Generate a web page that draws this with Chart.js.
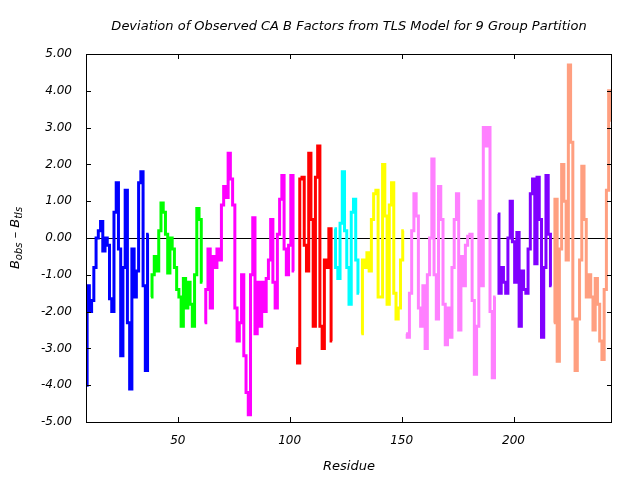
<!DOCTYPE html>
<html>
<head>
<meta charset="utf-8">
<script src="https://cdn.jsdelivr.net/npm/chart.js@4"></script>
<style>
  html, body { margin: 0; padding: 0; background: #fff; }
  #wrap { width: 640px; height: 480px; }
</style>
</head>
<body>
<div id="wrap"><canvas id="chart"></canvas></div>
<script>
// residue range and ticks
const xMin = 9;
const xMax = 244;
const xTicks = [50, 100, 150, 200];
const yTicks = [-5, -4, -3, -2, -1, 0, 1, 2, 3, 4, 5];

// first residue of each TLS group
const groupStarts = [9, 38, 62, 103, 120, 132, 152, 193, 218];
const groupColors = ['#0000ff', '#00ff00', '#ff00ff', '#ff0000', '#00ffff', '#ffff00', '#ff80ff', '#8000ff', '#ff9f80'];

// B_obs - B_tls per residue, one array per group
const group1 = [-4.0, -1.3, -2.0, -1.7, -0.8, 0.0, 0.2, 0.45, -0.35, 0.0, -0.2, -1.65, -2.0, 0.7, 1.5, -0.3, -3.2, -0.8, 1.3, -2.3, -4.1, -0.3, -1.6, -0.9, 1.5, 1.8, -1.3, -3.6, 0.1];
const group2 = [-1.6, -1.0, -0.5, -0.9, 0.2, 0.95, 0.7, 0.1, -0.95, 0.0, -0.3, -0.8, -1.4, -1.6, -2.4, -1.1, -1.9, -1.2, -1.8, -2.4, -1.0, 0.8, 0.5, -1.2];
const group3 = [-2.3, -1.4, -0.3, -1.9, -0.5, -0.8, -0.3, -0.6, 0.9, 1.4, 1.1, 2.3, 1.6, 0.9, -1.9, -2.8, -2.3, -1.0, -3.2, -4.2, -4.8, -1.0, 0.55, -2.6, -1.2, -2.4, -1.2, -2.0, -1.1, -0.6, 0.5, -1.2, -1.9, 0.1, 1.05, 1.7, -0.3, -1.0, -0.2, 1.7, -0.9];
const group4 = [-3.0, -3.4, 1.6, 1.65, -0.2, -0.9, 2.3, 0.5, -2.4, 1.65, 2.5, -2.4, -3.0, -0.6, -0.8, 0.25, -2.8];
const group5 = [0.25, -0.8, -1.1, 0.4, 1.8, 0.2, -0.8, -1.8, 0.7, 1.05, -0.6, -1.5];
const group6 = [-2.6, -0.6, -0.8, -0.4, -0.9, 0.5, 1.2, 1.3, -1.6, -1.6, 2.0, 0.6, -1.8, 0.9, 1.5, -1.5, -2.2, -1.9, -0.6, 0.2];
const group7 = [-2.6, -2.7, -1.5, 0.2, 1.2, 0.6, -1.9, -2.4, -1.3, -3.0, -1.0, 0.0, 2.15, -1.0, -2.2, 1.4, 0.5, -1.8, -2.9, -1.9, -2.7, -0.8, 0.5, 1.2, -2.5, -0.5, -1.3, -0.2, 0.05, 0.1, -1.7, -3.7, -2.4, 1.0, -1.3, 3.0, 2.5, 3.0, -2.0, -3.8, -1.6];
const group8 = [0.65, -1.5, -0.8, -1.2, -1.5, 0.0, 1.0, -0.1, -1.2, 0.15, -2.4, -0.9, -1.4, -1.5, -0.3, 1.2, 1.6, -0.7, 1.65, 0.5, -2.7, -0.8, 1.7, 0.1, -1.3];
const group9 = [-2.3, 1.05, -3.35, -0.3, 2.0, 1.0, -0.6, 4.7, 2.6, -2.2, -3.6, -2.2, -0.6, 1.95, 0.5, -1.6, -1.0, -1.6, -2.5, -1.1, -1.8, -2.8, -3.3, -1.4, 1.3, 4.0, 3.2];

const groups = [group1, group2, group3, group4, group5, group6, group7, group8, group9];

const datasets = groups.map((vals, g) => ({
    label: 'Group ' + (g + 1),
    data: vals.map((v, i) => ({ x: groupStarts[g] + i, y: v })),
    borderColor: groupColors[g],
    backgroundColor: groupColors[g],
    borderWidth: 3,
    pointRadius: 0,
    stepped: 'middle',
    fill: false
}));

const FONT = 'DejaVu Sans';
const TITLE = 'Deviation of Observed CA B Factors from TLS Model for 9 Group Partition';

// frame, inward ticks (mirrored) and titles, gnuplot style
const framePlugin = {
    id: 'frame',
    afterDatasetsDraw(chart) {
        const { ctx, chartArea: a, scales } = chart;
        const tl = 5;
        ctx.save();
        ctx.strokeStyle = '#000';
        ctx.lineWidth = 1;
        ctx.strokeRect(a.left + 0.5, a.top + 0.5, a.right - a.left - 1, a.bottom - a.top);
        ctx.beginPath();
        xTicks.forEach((t) => {
            const px = Math.round(scales.x.getPixelForValue(t)) + 0.5;
            ctx.moveTo(px, a.bottom); ctx.lineTo(px, a.bottom - tl);
            ctx.moveTo(px, a.top); ctx.lineTo(px, a.top + tl);
        });
        yTicks.forEach((t) => {
            const py = Math.round(scales.y.getPixelForValue(t)) + 0.5;
            ctx.moveTo(a.left, py); ctx.lineTo(a.left + tl, py);
            ctx.moveTo(a.right, py); ctx.lineTo(a.right - tl, py);
        });
        ctx.stroke();
        ctx.restore();
    },
    afterDraw(chart) {
        const { ctx, chartArea: a } = chart;
        const cx = (a.left + a.right) / 2;
        ctx.save();
        ctx.fillStyle = '#000';
        ctx.textAlign = 'center';
        ctx.textBaseline = 'middle';
        ctx.font = 'italic 13px "' + FONT + '"';
        ctx.fillText(TITLE, cx, 27);
        ctx.fillText('Residue', cx, 467);
        // y title with subscripts
        const parts = [
            { t: 'B', sub: false },
            { t: 'obs', sub: true },
            { t: ' \u2013 B', sub: false },
            { t: 'tls', sub: true }
        ];
        const big = 'italic 13px "' + FONT + '"';
        const small = 'italic 10px "' + FONT + '"';
        let total = 0;
        parts.forEach((p) => { ctx.font = p.sub ? small : big; total += ctx.measureText(p.t).width; });
        ctx.translate(14, (a.top + a.bottom) / 2);
        ctx.rotate(-Math.PI / 2);
        ctx.textAlign = 'left';
        ctx.textBaseline = 'alphabetic';
        let x = -total / 2;
        parts.forEach((p) => {
            ctx.font = p.sub ? small : big;
            ctx.fillText(p.t, x, p.sub ? 8 : 5);
            x += ctx.measureText(p.t).width;
        });
        ctx.restore();
    }
};

new Chart(document.getElementById('chart'), {
    type: 'line',
    data: { datasets },
    options: {
        responsive: true,
        maintainAspectRatio: false,
        animation: false,
        layout: { padding: { left: 0, right: 28, top: 54, bottom: 0 } },
        plugins: {
            legend: { display: false },
            tooltip: { enabled: false },
            title: { display: false }
        },
        scales: {
            x: {
                type: 'linear',
                min: xMin,
                max: xMax,
                afterBuildTicks: (scale) => { scale.ticks = xTicks.map((v) => ({ value: v })); },
                afterFit: (scale) => { scale.height = 58; },
                grid: { display: false, drawTicks: false },
                border: { display: false },
                ticks: {
                    color: '#000',
                    padding: 12,
                    maxRotation: 0,
                    font: { family: FONT, size: 12, style: 'italic' }
                }
            },
            y: {
                min: -5,
                max: 5,
                afterBuildTicks: (scale) => { scale.ticks = yTicks.map((v) => ({ value: v })); },
                afterFit: (scale) => { scale.width = 86; },
                grid: {
                    drawTicks: false,
                    color: (c) => (c.tick && c.tick.value === 0 ? '#000' : 'rgba(0,0,0,0)'),
                    lineWidth: 1
                },
                border: { display: false },
                ticks: {
                    color: '#000',
                    padding: 14,
                    font: { family: FONT, size: 12, style: 'italic' },
                    callback: (v) => Number(v).toFixed(2)
                }
            }
        }
    },
    plugins: [framePlugin]
});
</script>
</body>
</html>
